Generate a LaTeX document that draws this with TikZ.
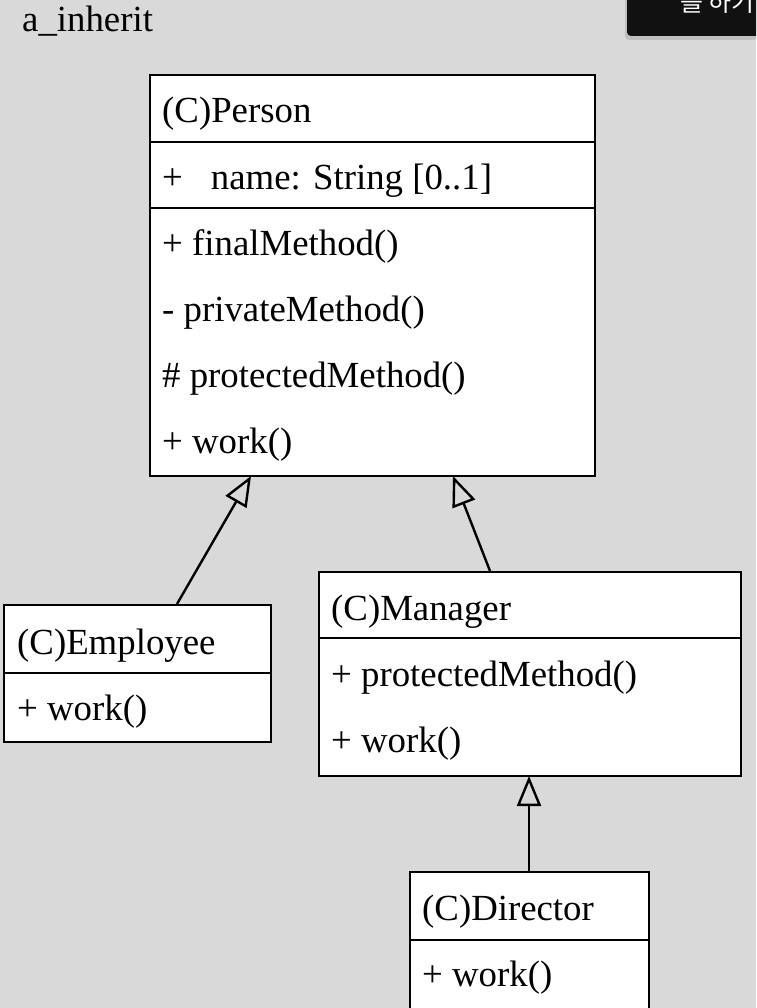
\documentclass[tikz,border=0pt]{standalone}
\usepackage{fontspec}
\setmainfont{Liberation Serif}
\newfontfamily\krfont{Noto Sans CJK KR}
\usetikzlibrary{arrows.meta}
\definecolor{bg}{HTML}{D9D9D9}
\definecolor{tip}{HTML}{111111}
\tikzset{
  classbox/.style={draw=black, line width=2.4pt, fill=white, rectangle, inner sep=0pt, anchor=north west},
  divider/.style={draw=black, line width=2.4pt},
  txt/.style={anchor=base west, inner sep=0pt, font=\fontsize{36.8}{40}\selectfont},
  inherit/.style={draw=black, line width=2.4pt, -{Triangle[open, length=30pt, width=24pt, line width=2.4pt]}},
}
\begin{document}
\begin{tikzpicture}[x=1pt, y=-1pt]
\useasboundingbox (0,0) rectangle (756,1008);
\clip (0,0) rectangle (756,1008);
\fill[bg] (0,0) rectangle (756,1008);
% tooltip
\fill[black!25, rounded corners=4pt] (625,-10) rectangle (758,40);
\fill[tip, rounded corners=4pt] (627,-10) rectangle (760,36);
\node[anchor=base west, inner sep=0pt, text=white, font=\krfont\fontsize{25}{28}\selectfont] (tiptext) at (680,12) {를 하기};
% title
\node[txt] (title) at (22,32) {a\_inherit};
% Person
\node[classbox, minimum width=445pt, minimum height=401pt] (person) at (149,74) {};
\draw[divider] (149,142) -- (594,142);
\draw[divider] (149,208) -- (594,208);
\node[txt] (pname) at (162,123) {(C)Person};
\node[txt] (pattr) at (162,190) {+\hspace{28pt}name: String [0..1]};
\node[txt] (pm1) at (162,255) {+ finalMethod()};
\node[txt] (pm2) at (162,321) {- privateMethod()};
\node[txt] (pm3) at (162,387) {\# protectedMethod()};
\node[txt] (pm4) at (162,453) {+ work()};
% Employee
\node[classbox, minimum width=267pt, minimum height=137pt] (employee) at (3,604) {};
\draw[divider] (3,673) -- (270,673);
\node[txt] (ename) at (17,654) {(C)Employee};
\node[txt] (em1) at (17,720) {+ work()};
% Manager
\node[classbox, minimum width=422pt, minimum height=204pt] (manager) at (318,571) {};
\draw[divider] (318,638) -- (740,638);
\node[txt] (mname) at (331,620) {(C)Manager};
\node[txt] (mm1) at (331,686) {+ protectedMethod()};
\node[txt] (mm2) at (331,752) {+ work()};
% Director
\node[classbox, minimum width=239pt, minimum height=140pt] (director) at (409,871) {};
\draw[divider] (409,940) -- (648,940);
\node[txt] (dname) at (422,920) {(C)Director};
\node[txt] (dm1) at (422,986) {+ work()};
% connectors
\coordinate (eTop) at (177,604);
\coordinate (pBotL) at (251,476);
\coordinate (mTop) at (490,571);
\coordinate (pBotR) at (453,476);
\coordinate (dTop) at (529,871);
\coordinate (mBot) at (529,776);
\draw[inherit] (eTop) -- (pBotL);
\draw[inherit] (mTop) -- (pBotR);
\draw[inherit] (dTop) -- (mBot);
\end{tikzpicture}
\end{document}
